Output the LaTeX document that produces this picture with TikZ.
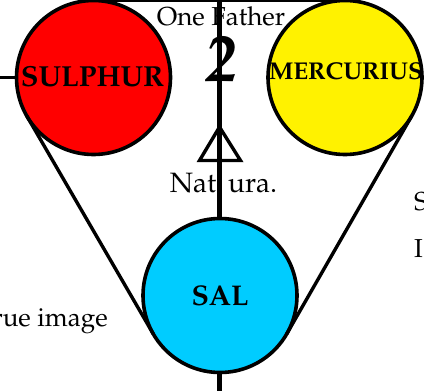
\documentclass[tikz,border=0pt]{standalone}
\usepackage[T1]{fontenc}
\usepackage{mathpazo}
\definecolor{salblue}{RGB}{0,204,255}
\begin{document}
\begin{tikzpicture}[x=1pt,y=-1pt,
  ball/.style={circle, draw=black, line width=3.6pt, minimum size=154pt, inner sep=0pt, outer sep=0pt},
  bigtxt/.style={font=\fontsize{29}{30}\selectfont\bfseries, inner sep=0pt},
  lbl/.style={font=\fontsize{26}{30}\selectfont, inner sep=0pt},
  conn/.style={line width=3.4pt}]
\useasboundingbox (0,0) rectangle (424,391);
% free ends
\coordinate (vtop) at (219,0);
\coordinate (vbot) at (219,391);
\coordinate (lend) at (0,77.5);
\coordinate (tapex) at (219.5,127);
\coordinate (tleft) at (199.5,160.5);
\coordinate (tright) at (240.5,160.5);
% circles (positions)
\path (93.5,77.5) node[ball, draw=none] (sulp) {};
\path (345,77.5) node[ball, draw=none] (merp) {};
% background connectors
\draw[conn] (sulp.north) -- (merp.north);
\draw[line width=5pt] (vtop) -- (vbot);
% circles
\node[ball, fill=red] (sul) at (93.5,77.5) {};
\node[ball, fill=yellow] (mer) at (345,77.5) {};
\node[ball, fill=salblue] (sal) at (220,295.5) {};
% connectors
\draw[conn] (lend) -- (sul.west);
\draw[conn] (sul.210) -- (sal.210);
\draw[conn] (mer.330) -- (sal.330);
\draw[conn, line join=miter] (tapex) -- (tleft) -- (tright) -- cycle;
% texts
\node[bigtxt] (sultxt) at (92.5,77) {SULPHUR};
\node[bigtxt, font=\fontsize{24.3}{26}\selectfont\bfseries] (mertxt) at (346,71) {MERCURIUS};
\node[bigtxt, font=\fontsize{28.5}{30}\selectfont\bfseries] (saltxt) at (220,296) {SAL};
\node[inner sep=0pt, font=\fontsize{66}{68}\selectfont\bfseries\itshape] (two) at (221.5,60) {2};
\node[lbl, anchor=base] (father) at (221,25) {One Father};
\node[lbl, font=\fontsize{28}{30}\selectfont, anchor=base] (natura) at (223.5,192) {Nat\hspace{5pt} ura.};
\node[lbl, anchor=base east] (image) at (108,326) {rue image};
\node[lbl, anchor=base west] (s) at (414,210) {S};
\node[lbl, anchor=base west] (i) at (414,257) {I};
\end{tikzpicture}
\end{document}
